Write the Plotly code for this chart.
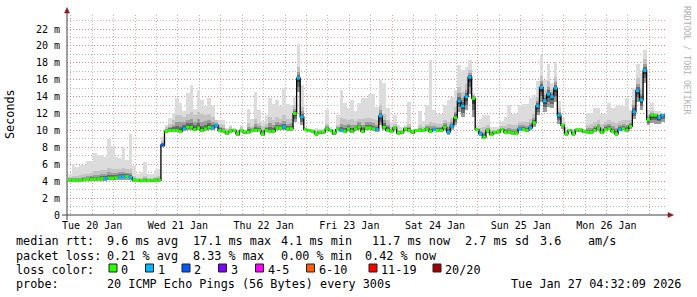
import plotly.graph_objects as go
import pandas as pd
import numpy as np

# ---------------- data (hourly steps, milliseconds) ----------------
start_time = "2026-01-20 05:15"
median_ms = [
    4.1, 4.1, 4.1, 4.1, 4.2, 4.2, 4.2, 4.25, 4.25, 4.3,
    4.3, 4.35, 4.35, 4.4, 4.5, 4.5, 4.55, 4.45, 4.1, 4.1,
    4.05, 4.05, 4.05, 4.1, 4.1, 4.1, 8.3, 9.9, 10.0, 10.0,
    10.0, 9.9, 10.2, 10.4, 10.4, 10.1, 10.3, 10.0, 10.2, 10.4,
    10.3, 10.6, 10.0, 9.9, 9.7, 9.9, 10.0, 9.6, 10.0, 9.8,
    9.8, 10.0, 10.0, 10.0, 9.6, 10.0, 9.9, 9.9, 10.3, 10.3,
    10.4, 10.2, 10.2, 12.0, 16.2, 11.6, 10.1, 10.0, 9.9, 9.6,
    9.8, 9.8, 10.2, 10.0, 9.7, 10.1, 10.0, 9.9, 10.2, 9.9,
    10.2, 10.4, 9.9, 10.3, 10.3, 10.2, 10.1, 11.7, 10.4, 10.0,
    9.9, 10.3, 9.7, 9.8, 10.2, 10.0, 9.8, 10.0, 10.0, 10.0,
    10.2, 9.9, 10.1, 10.0, 10.0, 10.4, 9.8, 10.5, 11.5, 13.5,
    12.9, 14.0, 16.3, 13.8, 10.1, 9.6, 9.2, 10.0, 9.5, 9.8,
    9.8, 10.1, 9.8, 9.8, 9.7, 9.7, 10.2, 10.1, 10.0, 10.3,
    10.9, 12.9, 15.1, 13.5, 14.3, 14.0, 15.0, 11.8, 10.6, 9.6,
    10.0, 9.6, 10.1, 10.1, 9.9, 9.8, 9.8, 10.0, 10.3, 9.8,
    10.1, 10.2, 9.9, 9.6, 10.1, 10.2, 10.0, 10.5, 12.2, 14.7,
    13.6, 17.1, 11.3, 11.8, 11.8, 11.5, 11.8,
]
smoke_max_ms = [
    4.9, 6.0, 5.7, 5.9, 5.9, 6.4, 6.4, 7.3, 7.1, 7.1,
    6.9, 9.0, 8.2, 6.9, 6.8, 8.0, 6.5, 9.6, 5.8, 4.8,
    5.1, 6.3, 4.9, 4.9, 5.3, 5.5, 9.2, 10.7, 11.5, 12.1,
    13.8, 13.2, 12.3, 14.4, 15.4, 12.5, 14.8, 13.6, 12.9, 13.8,
    12.9, 11.2, 11.2, 11.2, 10.3, 10.6, 10.3, 10.1, 10.6, 10.1,
    12.5, 11.3, 14.6, 12.4, 11.1, 11.8, 13.8, 13.1, 13.6, 12.9,
    15.0, 13.1, 13.0, 14.0, 20.2, 15.4, 10.4, 10.2, 10.2, 10.3,
    10.2, 10.2, 12.4, 10.4, 10.2, 11.8, 14.8, 13.2, 12.6, 13.6,
    12.3, 13.2, 13.8, 13.8, 14.3, 14.3, 12.8, 16.0, 15.6, 12.7,
    11.0, 11.8, 10.6, 10.4, 10.6, 13.4, 10.1, 10.2, 12.3, 11.1,
    13.0, 18.3, 12.4, 12.0, 12.0, 13.0, 13.6, 14.0, 14.8, 17.8,
    17.2, 17.5, 18.3, 14.4, 10.6, 11.3, 11.8, 11.8, 10.4, 10.4,
    10.4, 11.1, 11.6, 13.0, 12.0, 12.0, 13.0, 13.1, 13.1, 13.8,
    14.2, 15.8, 18.9, 16.0, 17.9, 15.6, 18.1, 13.5, 11.5, 10.4,
    10.2, 10.2, 10.2, 10.2, 10.2, 12.1, 12.1, 12.7, 12.7, 12.0,
    12.0, 13.2, 12.7, 12.9, 12.9, 12.9, 13.8, 12.4, 15.0, 17.9,
    16.8, 19.5, 12.4, 13.2, 12.3, 12.3, 12.0,
]
smoke_mid_ms = [
    4.5, 4.6, 4.6, 4.7, 4.8, 4.9, 5.0, 5.2, 5.2, 5.3,
    5.3, 5.6, 5.5, 5.4, 5.5, 5.6, 5.4, 5.5, 4.6, 4.4,
    4.4, 4.6, 4.4, 4.4, 4.5, 4.6, 8.8, 10.4, 10.8, 11.2,
    11.8, 11.8, 11.6, 12.0, 12.2, 11.8, 12.2, 11.9, 11.8, 12.0,
    11.6, 11.2, 10.8, 10.6, 10.2, 10.4, 10.2, 10.0, 10.4, 10.1,
    10.9, 10.5, 11.4, 10.9, 10.5, 10.8, 11.6, 11.2, 11.6, 11.4,
    11.8, 11.3, 11.4, 13.0, 17.5, 12.8, 10.3, 10.1, 10.1, 10.0,
    10.1, 10.1, 10.8, 10.2, 10.0, 10.7, 11.5, 11.3, 11.2, 11.3,
    11.1, 11.4, 11.3, 11.5, 11.5, 11.4, 11.2, 13.0, 12.0, 11.2,
    10.4, 10.8, 10.1, 10.1, 10.4, 10.8, 10.0, 10.1, 10.6, 10.4,
    10.8, 11.0, 10.9, 10.8, 10.8, 11.2, 11.0, 11.5, 12.8, 15.2,
    14.6, 15.5, 17.2, 14.2, 10.3, 10.3, 10.4, 10.6, 10.0, 10.1,
    10.2, 10.5, 10.5, 10.8, 10.6, 10.6, 11.0, 11.0, 11.0, 11.4,
    12.0, 14.0, 16.5, 14.8, 15.8, 14.9, 16.3, 12.6, 10.9, 10.0,
    10.1, 9.9, 10.1, 10.1, 10.0, 10.6, 10.8, 11.0, 11.2, 10.8,
    11.0, 11.2, 11.0, 10.9, 11.1, 11.2, 11.2, 11.2, 13.6, 16.2,
    15.0, 18.4, 11.8, 12.3, 12.1, 12.0, 12.0,
]
smoke_min_ms = [
    3.9, 3.9, 3.9, 3.9, 4.0, 4.0, 4.0, 4.0, 4.0, 4.05,
    4.05, 4.1, 4.1, 4.1, 4.2, 4.2, 4.2, 4.1, 3.95, 3.95,
    3.9, 3.9, 3.9, 3.95, 3.95, 3.95, 8.1, 9.7, 9.8, 9.8,
    9.8, 9.7, 9.9, 10.1, 10.1, 9.9, 10.0, 9.8, 9.9, 10.1,
    10.0, 10.3, 9.8, 9.7, 9.5, 9.7, 9.8, 9.4, 9.8, 9.6,
    9.6, 9.8, 9.8, 9.8, 9.4, 9.8, 9.7, 9.7, 10.0, 10.0,
    10.1, 9.9, 9.9, 11.0, 14.5, 10.6, 9.9, 9.8, 9.7, 9.4,
    9.6, 9.6, 9.9, 9.8, 9.5, 9.9, 9.8, 9.7, 9.9, 9.7,
    9.9, 10.1, 9.7, 10.0, 10.0, 9.9, 9.8, 10.6, 10.0, 9.8,
    9.7, 10.0, 9.5, 9.6, 9.9, 9.8, 9.6, 9.8, 9.8, 9.8,
    9.9, 9.7, 9.9, 9.8, 9.8, 10.1, 9.5, 10.1, 10.6, 12.2,
    11.6, 12.4, 14.3, 11.6, 9.9, 9.3, 9.0, 9.7, 9.3, 9.6,
    9.6, 9.9, 9.6, 9.6, 9.5, 9.5, 9.9, 9.9, 9.8, 10.0,
    10.4, 11.8, 13.4, 12.2, 12.8, 12.6, 13.4, 10.8, 10.2, 9.4,
    9.8, 9.4, 9.9, 9.9, 9.7, 9.6, 9.6, 9.8, 10.0, 9.6,
    9.9, 10.0, 9.7, 9.4, 9.9, 10.0, 9.8, 10.2, 11.4, 13.4,
    12.4, 15.6, 10.6, 10.9, 10.8, 10.8, 11.0,
]
lost_pings = [
    0, 0, 0, 0, 0, 0, 0, 0, 0, 0,
    1, 0, 0, 0, 1, 1, 0, 1, 0, 0,
    0, 0, 0, 0, 0, 0, 2, 0, 0, 0,
    0, 0, 1, 0, 0, 0, 0, 0, 0, 0,
    1, 1, 0, 0, 0, 0, 0, 0, 0, 0,
    0, 0, 0, 0, 0, 0, 0, 0, 0, 0,
    1, 0, 0, 0, 1, 1, 0, 0, 0, 0,
    0, 0, 0, 0, 0, 0, 1, 0, 0, 0,
    0, 0, 0, 0, 0, 0, 1, 1, 0, 0,
    0, 0, 0, 0, 0, 0, 0, 0, 0, 0,
    0, 0, 1, 0, 0, 0, 1, 1, 0, 1,
    1, 1, 1, 0, 0, 1, 0, 0, 0, 0,
    0, 0, 0, 0, 0, 0, 1, 0, 0, 1,
    0, 1, 1, 1, 1, 1, 1, 1, 0, 0,
    0, 0, 0, 0, 0, 0, 0, 0, 0, 0,
    0, 0, 0, 0, 1, 0, 0, 0, 1, 1,
    1, 1, 0, 0, 0, 1, 1,
]
y_tick_values = [0, 2, 4, 6, 8, 10, 12, 14, 16, 18, 20, 22]
y_tick_labels = ["0", "2 m", "4 m", "6 m", "8 m", "10 m", "12 m", "14 m",
                 "16 m", "18 m", "20 m", "22 m"]
loss_labels = ["0", "1", "2", "3", "4-5", "6-10", "11-19", "20/20"]
loss_colors = ["#26ff00", "#00b8ff", "#0059ff", "#7e00ff", "#ff00ff",
               "#ff5e00", "#ff0000", "#a00000"]
stats_rtt = ["9.6 ms avg", "17.1 ms max", "4.1 ms min", "11.7 ms now", "2.7 ms sd", "3.6", "am/s"]
stats_loss = ["0.21 % avg", "8.33 % max", "0.00 % min", "0.42 % now"]
probe_text = "20 ICMP Echo Pings (56 Bytes) every 300s"
stamp_text = "Tue Jan 27 04:32:09 2026"
x_range = ["2026-01-20 04:57", "2026-01-27 04:57"]

# ---------------- figure ----------------
med = np.array(median_ms)
hi = np.array(smoke_max_ms)
mid = np.array(smoke_mid_ms)
lo = np.array(smoke_min_ms)
n = len(med)
t_start = pd.date_range(start_time, periods=n + 1, freq="h")
t_center = t_start[:-1] + pd.Timedelta(minutes=30)
HOUR_MS = 3600000

fig = go.Figure()

layers = [
    (lo, hi, "#dcdcdc"),
    (lo, mid, "#c4c4c4"),
    (lo, med + (mid - med) * 0.55, "#9c9c9c"),
    (med - (med - lo) * 0.6, med + (mid - med) * 0.3, "#6a6a6a"),
    (med - (med - lo) * 0.3, med + (mid - med) * 0.12, "#3c3c3c"),
]
for bot, top, col in layers:
    fig.add_trace(go.Bar(x=t_center, y=top - bot, base=bot, width=HOUR_MS,
                         marker=dict(color=col, line=dict(width=0)),
                         hoverinfo="skip", showlegend=False))

fig.add_trace(go.Scatter(x=t_start, y=list(med) + [med[-1]], mode="lines",
                         line=dict(color="black", width=1.3, shape="hv"),
                         hoverinfo="skip", showlegend=False))

# loss-coloured median segments (scatter so they sit above the black line)
for code in sorted(set(lost_pings)):
    xs, ys = [], []
    for i in range(n):
        if lost_pings[i] == code:
            xs += [t_start[i], t_start[i + 1], None]
            ys += [med[i], med[i], None]
    fig.add_trace(go.Scatter(x=xs, y=ys, mode="lines",
                             line=dict(color=loss_colors[code], width=3),
                             hoverinfo="skip", showlegend=False))

MAJOR = "rgba(225,120,120,0.75)"
MINOR = "rgba(150,150,150,0.7)"
DASH = "1px,2px"
MONO = "DejaVu Sans Mono"

fig.update_layout(
    width=697, height=297,
    margin=dict(l=67, r=30, t=15, b=82),
    paper_bgcolor="white", plot_bgcolor="white",
    barmode="overlay", bargap=0,
    showlegend=False,
    font=dict(family=MONO, color="black"),
    xaxis=dict(type="date", range=x_range, tickformat="%a %d %b",
               ticklabelmode="period", tick0="2026-01-20", dtick=86400000,
               showgrid=True, gridcolor=MAJOR, griddash=DASH, gridwidth=1,
               minor=dict(tick0="2026-01-20", dtick=21600000, showgrid=True,
                          gridcolor=MINOR, griddash=DASH, gridwidth=1),
               showline=False, zeroline=False,
               ticks="outside", ticklen=1, tickcolor="rgba(0,0,0,0)",
               tickfont=dict(family=MONO, size=10, color="black")),
    yaxis=dict(range=[0, 23.66], tickmode="array", tickvals=y_tick_values,
               ticktext=y_tick_labels,
               showgrid=True, gridcolor=MAJOR, griddash=DASH, gridwidth=1,
               minor=dict(tickmode="linear", tick0=0, dtick=1, showgrid=True,
                          gridcolor=MINOR, griddash=DASH, gridwidth=1),
               showline=False, zeroline=False,
               ticks="outside", ticklen=4, tickcolor="rgba(0,0,0,0)",
               tickfont=dict(family=MONO, size=10, color="black")),
)


def X(px):
    return (px - 67) / 600.0


def Y(py):
    return (215 - py) / 200.0


shapes = []
AX = "#404040"
ARROW = "#8b1a1a"
shapes.append(dict(type="line", xref="paper", yref="paper", x0=X(62), x1=X(669),
                   y0=Y(215), y1=Y(215), line=dict(color=AX, width=1)))
shapes.append(dict(type="line", xref="paper", yref="paper", x0=X(67), x1=X(67),
                   y0=Y(220), y1=Y(12), line=dict(color=AX, width=1)))
shapes.append(dict(type="path", xref="paper", yref="paper",
                   path=f"M {X(64.5)} {Y(13)} L {X(67)} {Y(7.5)} L {X(69.5)} {Y(13)} Z",
                   fillcolor=ARROW, line=dict(color=ARROW, width=0.5)))
shapes.append(dict(type="path", xref="paper", yref="paper",
                   path=f"M {X(668)} {Y(212.5)} L {X(673.5)} {Y(215)} L {X(668)} {Y(217.5)} Z",
                   fillcolor=ARROW, line=dict(color=ARROW, width=0.5)))

box_x = [109, 145.5, 182, 218.5, 255.5, 306.5, 369, 433]
lab_x = [120, 156.5, 193, 229.5, 266.5, 317.5, 380, 444]
for bx, col in zip(box_x, loss_colors):
    shapes.append(dict(type="rect", xref="paper", yref="paper",
                       x0=X(bx), x1=X(bx + 8), y0=Y(272), y1=Y(264),
                       fillcolor=col, line=dict(color="#202020", width=1)))
fig.update_layout(shapes=shapes)

LEG = 11.8


def txt(x, y, s, size=LEG, anchor="left", color="black", angle=0):
    fig.add_annotation(xref="paper", yref="paper", x=X(x), y=Y(y), text=s,
                       showarrow=False, xanchor=anchor, yanchor="middle",
                       textangle=angle, borderpad=0,
                       font=dict(family=MONO, size=size, color=color))


txt(10, 114, "Seconds", size=11.8, anchor="center", angle=-90)
txt(687, 60, "RRDTOOL / TOBI OETIKER", size=8.2, anchor="center", angle=90, color="#b0b0b0")

y1, y2, y3, y4 = 241, 255.5, 269.5, 283.5
txt(15, y1, "median rtt:")
for xx, s in zip([106, 192, 280, 371, 464, 539, 587], stats_rtt):
    txt(xx, y1, s)
txt(15, y2, "packet loss:")
for xx, s in zip([106, 192, 280, 364], stats_loss):
    txt(xx, y2, s)
txt(15, y3, "loss color:")
for xx, s in zip(lab_x, loss_labels):
    txt(xx, y3, s)
txt(15, y4, "probe:")
txt(106, y4, probe_text)
txt(682, y4, stamp_text, anchor="right")

fig.write_html("out.html")
